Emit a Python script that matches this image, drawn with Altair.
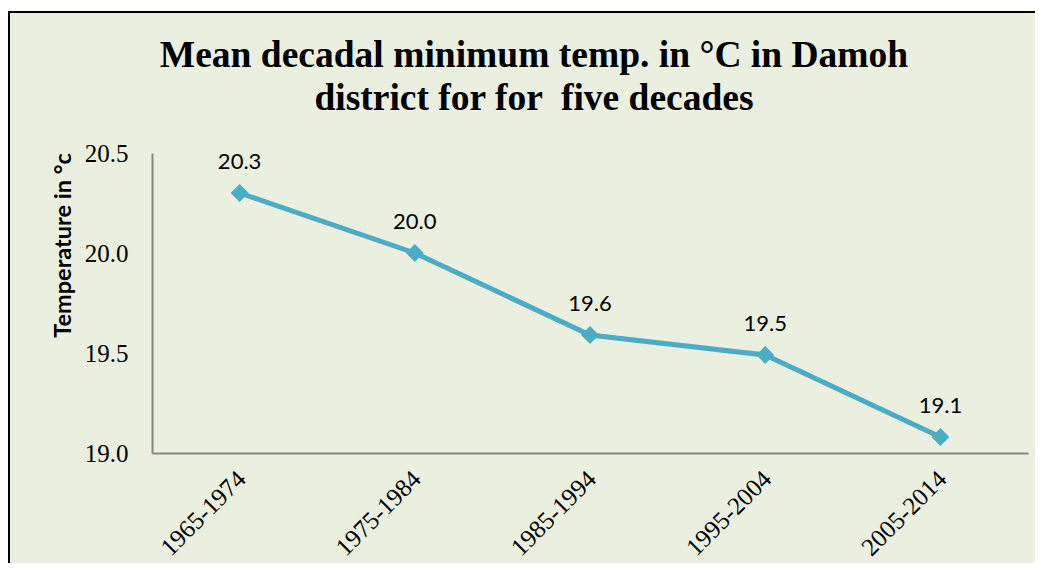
import altair as alt
import pandas as pd

decades = ["1965-1974", "1975-1984", "1985-1994", "1995-2004", "2005-2014"]
temps = [20.30, 20.00, 19.59, 19.49, 19.08]
title_line1 = "Mean decadal minimum temp. in °C in Damoh"
title_line2 = "district for for \u00a0five decades"

df = pd.DataFrame({"decade": decades, "temp": temps})
box = pd.DataFrame({"k": [0]})

GREEN = "#EBEFDF"
BLUE = "#4BACC6"

x = alt.X("decade:N", sort=decades, title=None,
          scale=alt.Scale(type="point", padding=0.5),
          axis=alt.Axis(labelAngle=-45, labelAlign="right", labelBaseline="top",
                        labelFont="Liberation Serif", labelFontSize=25, labelOffset=-7,
                        labelColor="#000000", ticks=False, domainColor="#878787",
                        domainWidth=2, labelPadding=13, grid=False, zindex=1))
y = alt.Y("temp:Q", title="Temperature in °c",
          scale=alt.Scale(domain=[19.0, 20.5], nice=False, zero=False),
          axis=alt.Axis(values=[19.0, 19.5, 20.0, 20.5], format=".1f",
                        labelFont="Liberation Serif", labelFontSize=25, labelColor="#000000",
                        ticks=False, domainColor="#878787", domainWidth=2, grid=False,
                        labelPadding=24, titleFont="Lato", titleFontSize=23.5,
                        titleFontWeight="bold", titleColor="#000000",
                        titleX=-89, titleY=92, titleAngle=-90, titleBaseline="middle",
                        titleAlign="center", zindex=1))

bg = alt.Chart(box).mark_rect(fill=GREEN, stroke="#000000", strokeWidth=2, clip=False).encode(
    x=alt.value(-143), x2=alt.value(1000), y=alt.value(-141), y2=alt.value(700)
)


def title_text(txt, ypos):
    return alt.Chart(pd.DataFrame({"t": [txt]})).mark_text(
        font="Liberation Serif", fontSize=37.5, fontWeight="bold", color="#000000",
        align="center", baseline="alphabetic", clip=False
    ).encode(x=alt.value(382), y=alt.value(ypos), text="t:N")


t1 = title_text(title_line1, -86)
t2 = title_text(title_line2, -43)

base = alt.Chart(df).encode(x=x, y=y)
line = base.mark_line(color=BLUE, strokeWidth=5)
pts = base.mark_point(shape="diamond", filled=True, color=BLUE, size=320, opacity=1)
labels = base.mark_text(font="Lato", fontSize=22, color="#000000", dy=-31, baseline="middle").encode(
    text=alt.Text("temp:Q", format=".1f")
)

chart = alt.layer(bg, t1, t2, line, pts, labels).properties(
    width=876, height=300,
    autosize=alt.AutoSizeParams(type="none"),
    padding={"left": 144, "top": 145, "right": 7, "bottom": 110},
    background="#FFFFFF",
).configure_view(stroke=None)

chart.save("out.html", embed_options={"renderer": "svg", "actions": False})
